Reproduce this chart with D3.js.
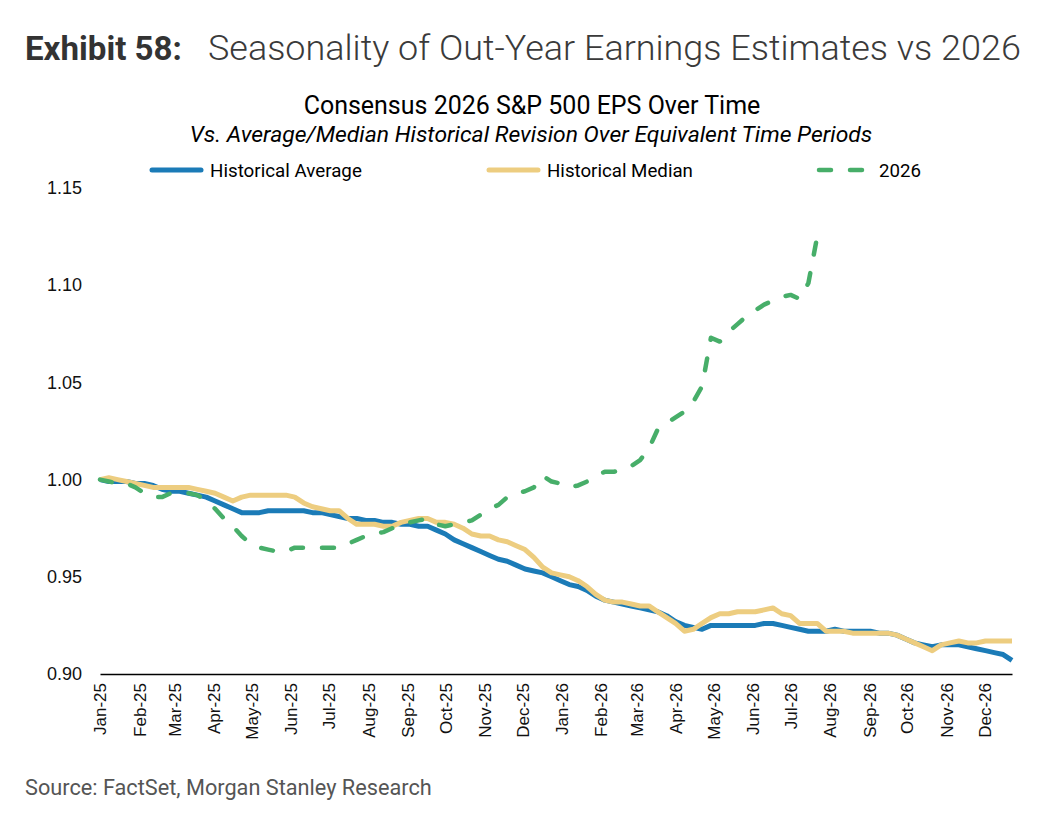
<!DOCTYPE html>
<html>
<head>
<meta charset="utf-8">
<script src="https://cdn.jsdelivr.net/npm/d3@7"></script>
<style>
  body { margin: 0; background: #fff; }
  svg { display: block; }
</style>
</head>
<body>
<svg id="chart" width="1048" height="828"></svg>
<script>
// ---------------- DATA ----------------
const startDate = "2025-01-01";           // first weekly observation
const stepDays = 7;                        // weekly observations
const seriesNames = ["Historical Average", "Historical Median", "2026"];
const yTicks = [0.90, 0.95, 1.00, 1.05, 1.10, 1.15];

const histAverage = [
  1.000,0.999,0.999,0.999,0.998,0.998,0.997,0.995,0.994,0.994,
  0.993,0.992,0.991,0.989,0.987,0.985,0.983,0.983,0.983,0.984,
  0.984,0.984,0.984,0.984,0.983,0.983,0.982,0.981,0.980,0.980,
  0.979,0.979,0.978,0.978,0.977,0.977,0.976,0.976,0.974,0.972,
  0.969,0.967,0.965,0.963,0.961,0.959,0.958,0.956,0.954,0.953,
  0.952,0.950,0.948,0.946,0.945,0.943,0.940,0.938,0.937,0.936,
  0.935,0.934,0.933,0.932,0.930,0.927,0.925,0.924,0.923,0.925,
  0.925,0.925,0.925,0.925,0.925,0.926,0.926,0.925,0.924,0.923,
  0.922,0.922,0.922,0.923,0.922,0.922,0.922,0.922,0.921,0.921,
  0.920,0.918,0.916,0.915,0.914,0.915,0.915,0.915,0.914,0.913,
  0.912,0.911,0.910,0.907
];

const histMedian = [
  1.000,1.001,1.000,0.999,0.998,0.997,0.996,0.996,0.996,0.996,
  0.996,0.995,0.994,0.993,0.991,0.989,0.991,0.992,0.992,0.992,
  0.992,0.992,0.991,0.988,0.986,0.985,0.984,0.984,0.980,0.977,
  0.977,0.977,0.976,0.976,0.978,0.979,0.980,0.980,0.978,0.978,
  0.977,0.975,0.972,0.971,0.971,0.969,0.968,0.966,0.964,0.960,
  0.955,0.952,0.951,0.950,0.948,0.945,0.941,0.938,0.937,0.937,
  0.936,0.935,0.935,0.932,0.929,0.926,0.922,0.923,0.926,0.929,
  0.931,0.931,0.932,0.932,0.932,0.933,0.934,0.931,0.930,0.926,
  0.926,0.926,0.922,0.922,0.922,0.921,0.921,0.921,0.921,0.921,
  0.920,0.918,0.916,0.914,0.912,0.915,0.916,0.917,0.916,0.916,
  0.917,0.917,0.917,0.917
];

const est2026 = [
  1.000,0.999,0.998,0.998,0.996,0.993,0.991,0.991,0.993,0.993,
  0.993,0.992,0.989,0.985,0.980,0.976,0.971,0.967,0.965,0.964,
  0.963,0.963,0.965,0.965,0.965,0.965,0.965,0.965,0.967,0.969,
  0.971,0.972,0.973,0.975,0.976,0.978,0.979,0.980,0.977,0.976,
  0.977,0.978,0.979,0.982,0.985,0.987,0.991,0.993,0.994,0.996,
  1.002,0.999,0.998,0.996,0.997,0.999,1.002,1.004,1.004,1.005,
  1.007,1.010,1.016,1.026,1.029,1.032,1.035,1.040,1.048,1.073,
  1.071,1.076,1.080,1.084,1.087,1.090,1.092,1.094,1.095,1.093,
  1.101,1.125
];

const colors = ["#1B7BB7", "#EDCD80", "#47AE69"];

// ---------------- CHART ----------------
const svg = d3.select("#chart");
const t0 = d3.timeParse("%Y-%m-%d")(startDate);
const dates = histAverage.map((_, i) => d3.timeDay.offset(t0, i * stepDays));

const x = d3.scaleTime().domain([dates[0], dates[dates.length - 1]]).range([100, 1012]);
const y = d3.scaleLinear().domain([0.90, 1.15]).range([674, 188]);

function fit(sel, w) {
  const l = sel.node().getComputedTextLength();
  const fs = parseFloat(sel.style("font-size"));
  sel.style("font-size", (fs * w / l) + "px");
}

// Title
const t1 = svg.append("text").attr("x", 25).attr("y", 60)
  .style("font-family", "Roboto").style("font-weight", "700")
  .style("font-size", "34px").style("fill", "#333").text("Exhibit 58:");
fit(t1, 157);
const t2 = svg.append("text").attr("x", 208).attr("y", 60)
  .style("font-family", "Roboto").style("font-weight", "300")
  .style("font-size", "34px").style("fill", "#3a3a3a")
  .text("Seasonality of Out-Year Earnings Estimates vs 2026");
fit(t2, 813);

// Chart title + subtitle
const ct = svg.append("text").attr("x", 532).attr("y", 114).attr("text-anchor", "middle")
  .style("font-family", "Roboto").style("font-size", "24px").style("fill", "#000")
  .text("Consensus 2026 S&P 500 EPS Over Time");
fit(ct, 457);
const st = svg.append("text").attr("x", 531).attr("y", 142).attr("text-anchor", "middle")
  .style("font-family", "Roboto").style("font-style", "italic").style("font-size", "21px")
  .style("fill", "#000")
  .text("Vs. Average/Median Historical Revision Over Equivalent Time Periods");
fit(st, 683);

// Legend
const legendItems = [
  { x1: 152, x2: 201, tx: 210, w: 152, dash: null },
  { x1: 489, x2: 538, tx: 547, w: 146, dash: null },
  { x1: 819, x2: 865, tx: 879, w: 42, dash: "12,19" }
];
legendItems.forEach((d, i) => {
  svg.append("line").attr("x1", d.x1).attr("x2", d.x2).attr("y1", 170).attr("y2", 170)
    .attr("stroke", colors[i]).attr("stroke-width", i === 2 ? 4.5 : 5)
    .attr("stroke-linecap", "round")
    .attr("stroke-dasharray", d.dash);
  const lt = svg.append("text").attr("x", d.tx).attr("y", 170).attr("dy", "0.36em")
    .style("font-family", "Roboto").style("font-size", "17px").style("fill", "#000")
    .text(seriesNames[i]);
  fit(lt, d.w);
});

// Y axis
const yAxis = svg.append("g").attr("transform", "translate(100,0)")
  .call(d3.axisLeft(y).tickValues(yTicks).tickFormat(d3.format(".2f")).tickSize(0).tickPadding(18));
yAxis.select(".domain").remove();
yAxis.selectAll("text").style("font-family", "Liberation Sans, Arial, sans-serif")
  .style("font-size", "18px").style("fill", "#111");

// X axis
const xAxis = svg.append("g").attr("transform", "translate(0,674)")
  .call(d3.axisBottom(x).ticks(d3.timeMonth.every(1)).tickFormat(d3.timeFormat("%b-%y"))
    .tickSize(0).tickSizeOuter(0));
xAxis.select(".domain").attr("stroke", "#000").attr("stroke-width", 1.5);
xAxis.selectAll("text")
  .attr("transform", "rotate(-90)")
  .attr("x", -9).attr("y", 0).attr("dy", "0.35em")
  .style("text-anchor", "end")
  .style("font-family", "Liberation Sans, Arial, sans-serif")
  .style("font-size", "17px").style("fill", "#111");

// Lines
const line = d3.line().x(d => x(d[0])).y(d => y(d[1]));
const seriesData = [histAverage, histMedian, est2026].map(arr => arr.map((v, i) => [dates[i], v]));

seriesData.forEach((s, i) => {
  svg.append("path").datum(s)
    .attr("fill", "none")
    .attr("stroke", colors[i])
    .attr("stroke-width", i === 2 ? 4.5 : 5)
    .attr("stroke-linejoin", "round")
    .attr("stroke-linecap", i === 2 ? "round" : "butt")
    .attr("stroke-dasharray", i === 2 ? "12,19" : null)
    .attr("d", line);
});

// Source
const src = svg.append("text").attr("x", 25).attr("y", 795)
  .style("font-family", "Roboto").style("font-size", "20px").style("fill", "#555")
  .text("Source: FactSet, Morgan Stanley Research");
fit(src, 407);
</script>
</body>
</html>
